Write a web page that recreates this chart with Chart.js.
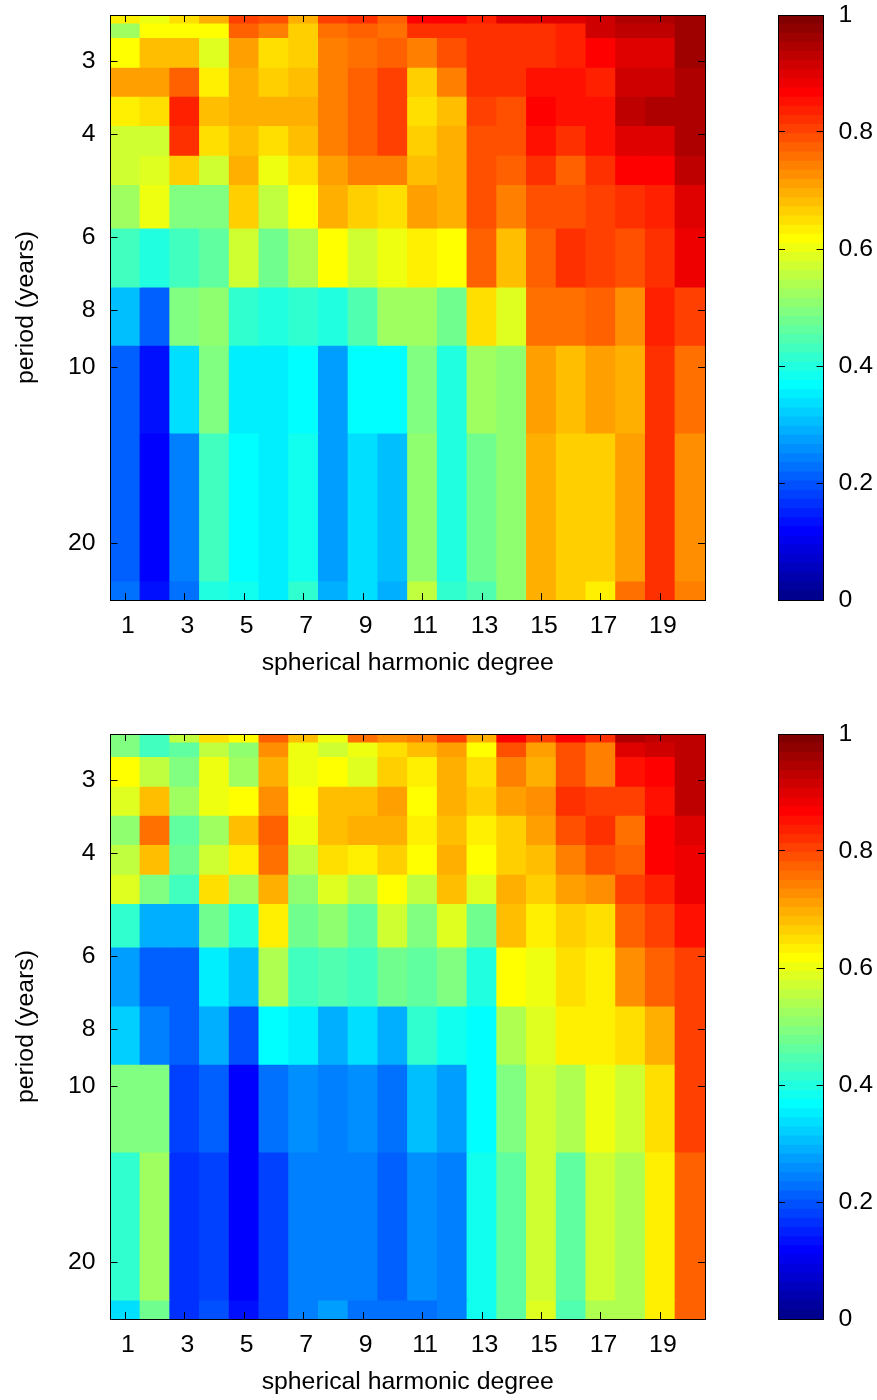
<!DOCTYPE html>
<html>
<head>
<meta charset="utf-8">
<title>Spherical harmonic degree vs period</title>
<script src="https://cdn.jsdelivr.net/npm/chart.js@4"></script>
<style>
html,body{margin:0;padding:0;background:#fff;}
#wrap{position:relative;width:877px;height:1400px;overflow:hidden;}
canvas{position:absolute;display:block;}
</style>
</head>
<body>
<div id="wrap">
<canvas id="map1" width="720" height="681" style="left:0;top:0"></canvas>
<canvas id="bar1" width="117" height="681" style="left:760px;top:0"></canvas>
<canvas id="map2" width="720" height="681" style="left:0;top:719px"></canvas>
<canvas id="bar2" width="117" height="681" style="left:760px;top:719px"></canvas>
</div>
<script>
const degrees = [1,2,3,4,5,6,7,8,9,10,11,12,13,14,15,16,17,18,19,20];
const periodEdges = [2.5,2.58,2.73,3.07,3.44,3.86,4.34,4.87,5.78,7.29,9.17,12.95,23.2,25];
const degreeTicks = [1,3,5,7,9,11,13,15,17,19];
const periodTicks = [3,4,6,8,10,20];
const colorbarTicks = [0,0.2,0.4,0.6,0.8,1];
const xTitle = 'spherical harmonic degree';
const yTitle = 'period (years)';
const paletteLevels = 64;

const topValues = [
[.63,.60,.65,.70,.80,.79,.70,.80,.82,.77,.87,.87,.84,.90,.90,.90,.91,.95,.95,.96],
[.52,.62,.62,.62,.77,.74,.66,.76,.77,.76,.82,.82,.82,.82,.82,.84,.91,.93,.93,.96],
[.62,.68,.68,.59,.71,.65,.66,.74,.76,.77,.74,.79,.82,.82,.82,.84,.87,.90,.90,.96],
[.71,.71,.77,.63,.70,.66,.68,.74,.77,.80,.66,.74,.82,.82,.85,.85,.84,.91,.91,.95],
[.63,.65,.84,.68,.70,.70,.70,.74,.77,.80,.65,.68,.80,.79,.87,.85,.85,.93,.95,.95],
[.57,.57,.82,.65,.68,.65,.68,.74,.77,.80,.66,.70,.79,.79,.85,.82,.85,.90,.90,.95],
[.57,.59,.66,.57,.70,.60,.65,.71,.74,.74,.68,.70,.79,.77,.82,.77,.82,.87,.87,.93],
[.52,.60,.49,.49,.66,.55,.62,.70,.66,.65,.71,.70,.79,.74,.79,.79,.80,.82,.84,.90],
[.43,.40,.43,.46,.57,.48,.54,.62,.57,.60,.63,.62,.77,.68,.77,.82,.80,.79,.82,.88],
[.30,.21,.49,.51,.41,.40,.41,.40,.45,.52,.52,.48,.65,.59,.76,.76,.77,.73,.84,.80],
[.21,.13,.34,.49,.35,.35,.37,.27,.37,.37,.49,.40,.52,.51,.71,.68,.71,.70,.82,.76],
[.21,.12,.24,.43,.37,.35,.38,.27,.34,.30,.51,.40,.48,.51,.70,.66,.66,.71,.82,.73],
[.23,.13,.23,.40,.38,.35,.41,.29,.34,.29,.55,.41,.45,.51,.70,.66,.63,.76,.82,.74]
];

const bottomValues = [
[.49,.43,.55,.65,.62,.77,.68,.60,.76,.73,.74,.80,.70,.87,.80,.87,.82,.95,.93,.93],
[.49,.43,.46,.55,.51,.73,.60,.57,.60,.65,.68,.71,.62,.79,.71,.79,.74,.90,.91,.93],
[.62,.55,.49,.60,.52,.70,.60,.62,.59,.66,.63,.70,.65,.74,.70,.79,.74,.85,.87,.93],
[.59,.68,.52,.60,.62,.73,.62,.68,.68,.71,.62,.70,.66,.71,.73,.82,.80,.80,.85,.93],
[.51,.76,.46,.52,.68,.77,.60,.68,.70,.70,.63,.68,.63,.66,.71,.79,.82,.76,.87,.90],
[.55,.68,.48,.57,.63,.76,.55,.65,.63,.66,.62,.70,.62,.66,.68,.74,.79,.77,.87,.88],
[.59,.49,.43,.65,.52,.70,.51,.59,.54,.62,.55,.68,.59,.70,.66,.71,.73,.80,.84,.88],
[.41,.29,.29,.48,.40,.63,.48,.51,.46,.57,.49,.59,.48,.68,.63,.66,.65,.77,.80,.85],
[.27,.21,.21,.35,.30,.54,.43,.45,.43,.48,.46,.49,.40,.62,.60,.65,.63,.73,.77,.80],
[.32,.24,.21,.29,.20,.37,.35,.29,.34,.29,.41,.38,.37,.54,.59,.63,.63,.65,.70,.80],
[.49,.49,.18,.21,.12,.23,.26,.24,.26,.23,.30,.27,.37,.49,.57,.54,.60,.57,.65,.80],
[.41,.52,.16,.18,.12,.18,.24,.24,.24,.21,.26,.24,.38,.46,.57,.46,.57,.54,.63,.77],
[.34,.48,.16,.20,.13,.18,.24,.27,.23,.23,.23,.24,.38,.46,.59,.45,.54,.54,.63,.77]
];

const FONT = {family:"'Liberation Sans', Arial, sans-serif", size:24.8};
const TICK = 7;

// 64-step "jet" colour map
function ramp(j){
  if(j<1||j>47) return 0;
  if(j<=16) return j/16;
  if(j<=31) return 1;
  return (48-j)/16;
}
function jet(level){
  const k = level+1;
  const c = v=>Math.round(v*255);
  return `rgb(${c(ramp(k-24))},${c(ramp(k-8))},${c(ramp(k+8))})`;
}
function colorOf(v){
  return jet(Math.min(paletteLevels-1,Math.floor(v*paletteLevels)));
}
// Fixed scale thickness, with no extra room reserved for half-labels
function fixed(size,key){
  return s=>{
    s[key]=size;
    s.paddingTop=0;s.paddingBottom=0;s.paddingLeft=0;s.paddingRight=0;
  };
}
function setTicks(list){
  return s=>{s.ticks=list.map(v=>({value:v}));};
}
const edgeGrid = {drawOnChartArea:false,drawTicks:true,tickLength:-TICK,color:'#000',lineWidth:1,z:2,offset:false};
const edgeBorder = {display:true,color:'#000',width:1,z:2};

function heatmap(id,values){
  const datasets = values.map((row,r)=>({
    data:degrees.map(d=>({x:d,y:[periodEdges[r],periodEdges[r+1]]})),
    backgroundColor:row.map(colorOf),
    borderWidth:0,
    inflateAmount:0.6,
    grouped:false,
    barPercentage:1,
    categoryPercentage:1
  }));
  const xBase = {type:'linear',min:0.5,max:20.5,offset:false,grid:edgeGrid,border:edgeBorder,afterBuildTicks:setTicks(degreeTicks)};
  const yBase = {type:'logarithmic',min:2.5,max:25,reverse:true,offset:false,grid:edgeGrid,border:edgeBorder,afterBuildTicks:setTicks(periodTicks)};
  new Chart(document.getElementById(id),{
    type:'bar',
    data:{datasets},
    options:{
      responsive:false,animation:false,devicePixelRatio:1,
      layout:{padding:{top:15,right:15,left:0,bottom:0}},
      plugins:{legend:{display:false},tooltip:{enabled:false}},
      events:[],
      scales:{
        x:{...xBase,position:'bottom',afterFit:fixed(81,'height'),
          ticks:{font:FONT,color:'#000',padding:TICK+11,labelOffset:2.5,autoSkip:false,maxRotation:0,callback:v=>String(v)},
          title:{display:true,text:xTitle,font:FONT,color:'#000',padding:{top:0,bottom:3}}},
        x2:{...xBase,axis:'x',position:'top',afterFit:fixed(0,'height'),ticks:{display:false}},
        y:{...yBase,position:'left',afterFit:fixed(110.5,'width'),
          ticks:{font:FONT,color:'#000',padding:TICK+15,autoSkip:false,callback:v=>String(v)},
          title:{display:true,text:yTitle,font:FONT,color:'#000',padding:{top:11,bottom:0}}},
        y2:{...yBase,axis:'y',position:'right',afterFit:fixed(0,'width'),ticks:{display:false}}
      }
    }
  });
}

function colorbar(id){
  const datasets = [];
  for(let i=0;i<paletteLevels;i++){
    datasets.push({
      data:[[i/paletteLevels,(i+1)/paletteLevels]],
      backgroundColor:jet(i),
      borderWidth:0,inflateAmount:0.6,grouped:false,barPercentage:1,categoryPercentage:1
    });
  }
  const yBase = {type:'linear',min:0,max:1,offset:false,grid:edgeGrid,border:edgeBorder,afterBuildTicks:setTicks(colorbarTicks)};
  const xGrid = {...edgeGrid,drawTicks:false};
  new Chart(document.getElementById(id),{
    type:'bar',
    data:{labels:[''],datasets},
    options:{
      responsive:false,animation:false,devicePixelRatio:1,
      layout:{padding:{top:15,left:18,right:0,bottom:0}},
      plugins:{legend:{display:false},tooltip:{enabled:false}},
      events:[],
      scales:{
        x:{type:'category',position:'bottom',grid:xGrid,border:edgeBorder,ticks:{display:false},afterFit:fixed(81,'height')},
        x2:{type:'category',axis:'x',labels:[''],position:'top',grid:xGrid,border:edgeBorder,ticks:{display:false},afterFit:fixed(0,'height')},
        y:{...yBase,position:'right',afterFit:fixed(53.5,'width'),
          ticks:{font:FONT,color:'#000',padding:TICK+15,autoSkip:false,callback:v=>String(v)}},
        y2:{...yBase,axis:'y',position:'left',afterFit:fixed(0,'width'),ticks:{display:false}}
      }
    }
  });
}

heatmap('map1',topValues);
colorbar('bar1');
heatmap('map2',bottomValues);
colorbar('bar2');
</script>
</body>
</html>
